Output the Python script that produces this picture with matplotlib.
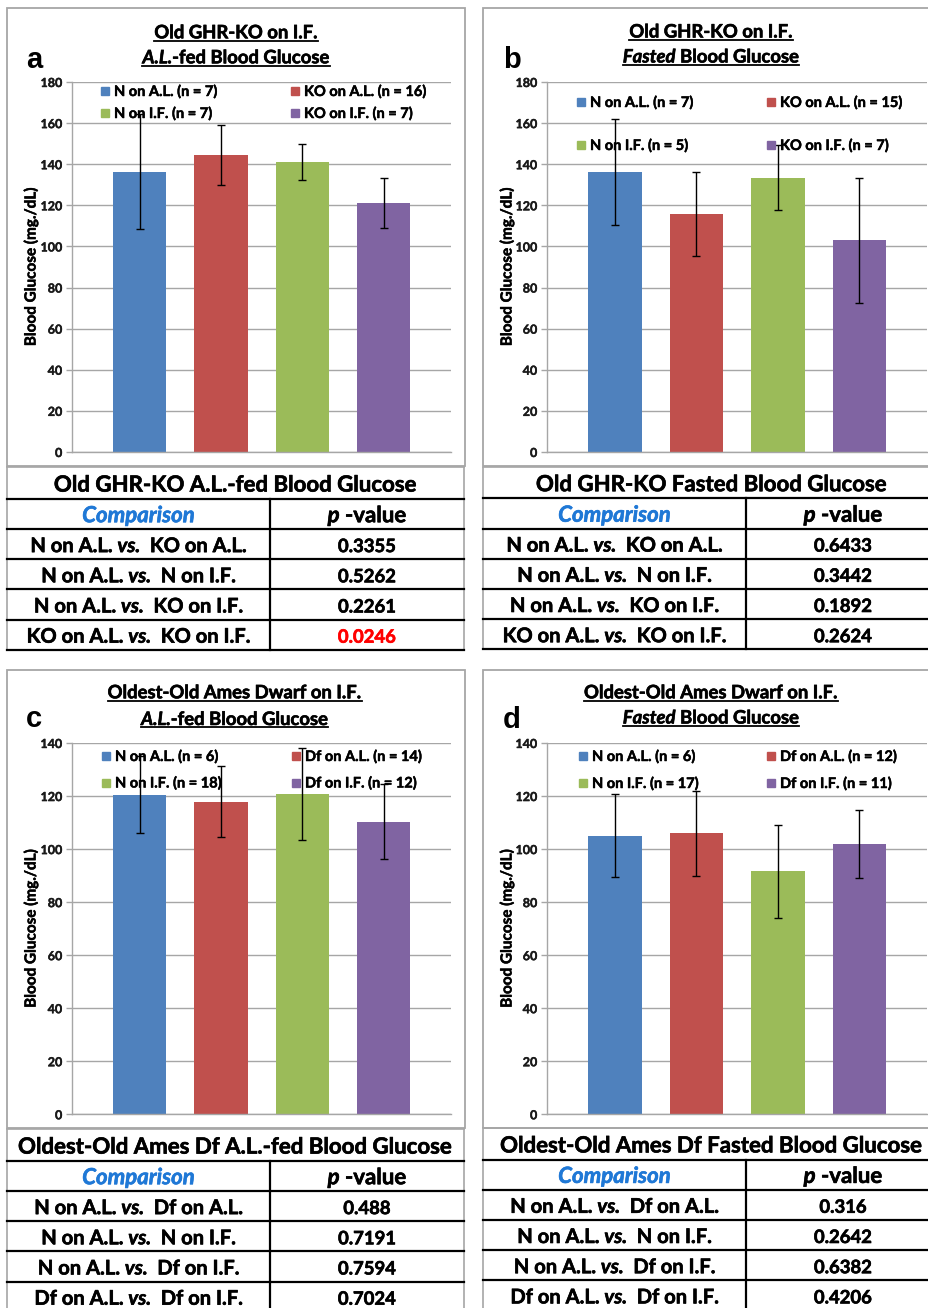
import matplotlib
matplotlib.use("Agg")
import matplotlib.pyplot as plt
from matplotlib.patches import Rectangle
from matplotlib.lines import Line2D
from matplotlib import font_manager as fm
import matplotlib.patheffects as pe

# ---------------- data ----------------
groups_ghr = ["N on A.L.", "KO on A.L.", "N on I.F.", "KO on I.F."]
groups_ames = ["N on A.L.", "Df on A.L.", "N on I.F.", "Df on I.F."]

n_a = [7, 16, 7, 7]
mean_a = [136.4, 144.4, 141.0, 121.1]
err_a = [27.8, 14.7, 8.9, 12.0]

n_b = [7, 15, 5, 7]
mean_b = [136.3, 115.8, 133.5, 103.0]
err_b = [25.8, 20.4, 15.7, 30.4]

n_c = [6, 14, 18, 12]
mean_c = [120.5, 117.9, 120.8, 110.4]
err_c = [14.5, 13.5, 17.5, 14.0]

n_d = [6, 12, 17, 11]
mean_d = [105.1, 106.0, 91.7, 101.9]
err_d = [15.5, 16.0, 17.5, 12.8]

title1_ghr = [("Old GHR-KO on I.F.", 'n')]
title1_ames = [("Oldest-Old Ames Dwarf on I.F.", 'n')]
title2_al = [("A.L.", 'i'), ("-fed Blood Glucose", 'n')]
title2_fast = [("Fasted", 'i'), (" Blood Glucose", 'n')]

table_title_a = "Old GHR-KO A.L.-fed Blood Glucose"
table_title_b = "Old GHR-KO Fasted Blood Glucose"
table_title_c = "Oldest-Old Ames Df A.L.-fed Blood Glucose"
table_title_d = "Oldest-Old Ames Df Fasted Blood Glucose"

comparisons_ghr = [("N on A.L.", "KO on A.L."), ("N on A.L.", "N on I.F."),
                   ("N on A.L.", "KO on I.F."), ("KO on A.L.", "KO on I.F.")]
comparisons_ames = [("N on A.L.", "Df on A.L."), ("N on A.L.", "N on I.F."),
                    ("N on A.L.", "Df on I.F."), ("Df on A.L.", "Df on I.F.")]
p_a = ["0.3355", "0.5262", "0.2261", "0.0246"]
p_b = ["0.6433", "0.3442", "0.1892", "0.2624"]
p_c = ["0.488", "0.7191", "0.7594", "0.7024"]
p_d = ["0.316", "0.2642", "0.6382", "0.4206"]
significant_a = [False, False, False, True]
significant_none = [False, False, False, False]

ylabel_text = "Blood Glucose (mg./dL)"
bar_colors = ['#4F81BD', '#C0504D', '#9BBB59', '#8064A2']


# ---------------- fonts ----------------
def _w(v):
    if isinstance(v, str):
        return fm.weight_dict.get(v, 400)
    return v


def find_faces(cands):
    for fam in cands:
        faces = [f for f in fm.fontManager.ttflist if f.name == fam]
        bold = [f for f in faces if _w(f.weight) >= 700 and f.style == 'normal']
        bi = [f for f in faces if _w(f.weight) >= 700 and f.style in ('italic', 'oblique')]
        if bold and bi:
            bold.sort(key=lambda f: abs(_w(f.weight) - 700))
            bi.sort(key=lambda f: abs(_w(f.weight) - 700))
            return bold[0].fname, bi[0].fname
    return None, None


BOLD_FILE, BI_FILE = find_faces(["Lato", "Open Sans", "Noto Sans", "Roboto", "Liberation Sans", "DejaVu Sans"])


def FP(style, size):
    if BOLD_FILE is None:
        return fm.FontProperties(family='DejaVu Sans', weight='bold',
                                 style='italic' if style == 'i' else 'normal', size=size)
    return fm.FontProperties(fname=BI_FILE if style == 'i' else BOLD_FILE, size=size)


def heavy(color, lw=0.45):
    return [pe.Stroke(linewidth=lw, foreground=color), pe.Normal()]


# ---------------- layout helpers ----------------
W, H = 929, 1308
fig = plt.figure(figsize=(W / 100, H / 100), dpi=100)
renderer = fig.canvas.get_renderer()
GRAY = '#A6A6A6'
BLUE_HDR = '#1F78D6'


def fx(x):
    return x / W


def fy(y):
    return 1 - y / H


def hline(x0, x1, y, **kw):
    fig.add_artist(Line2D([fx(x0), fx(x1)], [fy(y), fy(y)], transform=fig.transFigure, **kw))


def vline(x, y0, y1, **kw):
    fig.add_artist(Line2D([fx(x), fx(x)], [fy(y0), fy(y1)], transform=fig.transFigure, **kw))


def measure(s, fp):
    t = fig.text(0, 0, s, fontproperties=fp)
    w = t.get_window_extent(renderer).width
    t.remove()
    return w


def rich(x, y, pieces, size, ha='center', color='black', zorder=3):
    """pieces: list of (string, 'n'|'i'). y is baseline (pixel, top origin)."""
    items = []
    total = 0.0
    for s, st in pieces:
        fp = FP(st, size)
        sp = measure("x x", fp) - measure("xx", fp)
        lead = len(s) - len(s.lstrip(' '))
        trail = len(s) - len(s.rstrip(' '))
        core = s.strip(' ')
        wc = measure(core, fp) if core else 0.0
        items.append((core, fp, total + lead * sp))
        total += wc + (lead + trail) * sp
    x0 = x - total / 2 if ha == 'center' else x
    for core, fp, off in items:
        if core:
            fig.text(fx(x0 + off), fy(y), core, fontproperties=fp, ha='left',
                     va='baseline', color=color, zorder=zorder, path_effects=heavy(color))
    return x0, x0 + total


TITLE_FS = 13.3
TTITLE_FS = 16
HDR_FS = 16
ROW_FS = 14.5
VAL_FS = 13.3
LEG_FS = 10.5
TICK_FS = 9
YLAB_FS = 11


def draw_panel(letter, L, title1, title2, groups, ns, means, errs, ymax, yticks,
               ttitle, comps, pvals, sig):
    bx0, by0, bx1, by1 = L['box']
    fig.add_artist(Rectangle((fx(bx0), fy(by1)), (bx1 - bx0) / W, (by1 - by0) / H,
                             transform=fig.transFigure, fill=False, edgecolor=GRAY, lw=1.3))
    l, t, r, b = L['ax']
    ax = fig.add_axes([fx(l), fy(b), (r - l) / W, (b - t) / H])
    x = list(range(len(means)))
    ax.bar(x, means, width=0.656, color=bar_colors, zorder=2)
    ax.errorbar(x, means, yerr=errs, fmt='none', ecolor='black', elinewidth=1,
                capsize=3, capthick=1, zorder=3)
    ax.set_xlim(-0.835, 3.83)
    ax.set_ylim(0, ymax)
    ax.set_yticks(yticks, labels=[str(v) for v in yticks], fontproperties=FP('n', TICK_FS))
    ax.set_xticks([])
    ax.yaxis.grid(True, color=GRAY, lw=1)
    ax.set_axisbelow(True)
    for s in ['top', 'right']:
        ax.spines[s].set_visible(False)
    for s in ['left', 'bottom']:
        ax.spines[s].set_color(GRAY)
        ax.spines[s].set_linewidth(1)
    ax.tick_params(axis='y', length=4, color=GRAY, width=1, labelcolor='#1a1a1a', pad=3)
    for lab in ax.get_yticklabels():
        lab.set_path_effects(heavy('#1a1a1a', 0.3))
    ax.patch.set_alpha(0)

    # y label
    fig.text(fx(L['ylab_x']), fy((t + b) / 2), ylabel_text, rotation=90, ha='center',
             va='center', fontproperties=FP('n', YLAB_FS), path_effects=heavy('black', 0.35))

    # legend (manual, 2 x 2)
    for i, (g, n) in enumerate(zip(groups, ns)):
        row, col = divmod(i, 2)
        sx = L['leg_x'][col]
        sy = L['leg_y'][row]
        fig.add_artist(Rectangle((fx(sx), fy(sy + 4)), 8 / W, 8 / H,
                                 transform=fig.transFigure, color=bar_colors[i], zorder=5))
        fig.text(fx(sx + 13), fy(sy + 5), f"{g} (n = {n})", ha='left', va='baseline',
                 fontproperties=FP('n', LEG_FS), zorder=5, path_effects=heavy('black', 0.35))

    # titles with underline
    for pieces, base in ((title1, L['tb'][0]), (title2, L['tb'][1])):
        ux0, ux1 = rich(L['cx'], base, pieces, TITLE_FS)
        hline(ux0, ux1, base + 2.3, color='black', lw=1.3)

    # panel letter
    fig.text(fx(L['letter'][0]), fy(L['letter'][1]), letter, ha='left', va='baseline',
             fontsize=21, fontweight='bold', family='Liberation Sans')

    # table
    tx0, tx1, tdiv, ttop, th = L['tbl']
    rh = 30.2
    nrows = len(comps) + 1
    ys = [ttop, ttop + th] + [ttop + th + rh * (k + 1) for k in range(nrows)]
    bottom = ys[-1]
    hline(tx0, tx1, ttop, color=GRAY, lw=1.2)
    vline(tx0, ttop, bottom, color=GRAY, lw=1.2)
    vline(tx1, ttop, bottom, color=GRAY, lw=1.2)
    for yy in ys[1:]:
        hline(tx0, tx1, yy, color='black', lw=1.6)
    vline(tdiv, ys[1], bottom, color='black', lw=1.6)

    rich((tx0 + tx1) / 2, (ys[0] + ys[1]) / 2 + 8.7, [(ttitle, 'n')], TTITLE_FS)
    c1 = (tx0 + tdiv) / 2
    c2 = (tdiv + tx1) / 2
    rich(c1, (ys[1] + ys[2]) / 2 + 8.3, [("Comparison", 'i')], HDR_FS, color=BLUE_HDR)
    rich(c2, (ys[1] + ys[2]) / 2 + 8.3, [("p", 'i'), (" -value", 'n')], HDR_FS)
    for k, ((g1, g2), pv) in enumerate(zip(comps, pvals)):
        yc = (ys[2 + k] + ys[3 + k]) / 2 + 8.0
        rich(c1, yc, [(g1 + " ", 'n'), ("vs.", 'i'), ("  " + g2, 'n')], ROW_FS)
        rich(c2, yc, [(pv, 'n')], VAL_FS, color='#FF0000' if sig[k] else 'black')


layouts = {
    'a': dict(box=(7, 8, 465, 466), ax=(72, 82, 451, 452), cx=236, tb=(38.3, 63.3),
              letter=(26, 68.3), leg_x=(101, 291), leg_y=(91, 113), ylab_x=31,
              tbl=(7, 464, 270, 467, 31.8)),
    'b': dict(box=(483, 8, 935, 466), ax=(547, 82, 927, 452), cx=711, tb=(37.5, 62.5),
              letter=(503, 68.3), leg_x=(577, 767), leg_y=(102, 145), ylab_x=507,
              tbl=(483, 940, 746, 466.7, 31.6)),
    'c': dict(box=(7, 670, 465, 1127.5), ax=(72, 743, 451, 1114.3), cx=234.6, tb=(698.3, 725),
              letter=(26, 726.7), leg_x=(102, 292), leg_y=(756, 782.5), ylab_x=31,
              tbl=(7, 464, 270, 1129, 31.8)),
    'd': dict(box=(483, 670, 935, 1127.5), ax=(547, 743, 927, 1114.3), cx=711, tb=(698.3, 723.5),
              letter=(503, 727.5), leg_x=(579, 767), leg_y=(756, 783), ylab_x=507,
              tbl=(483, 940, 746, 1128, 31.5)),
}

draw_panel('a', layouts['a'], title1_ghr, title2_al, groups_ghr, n_a, mean_a, err_a,
           180, list(range(0, 181, 20)), table_title_a, comparisons_ghr, p_a, significant_a)
draw_panel('b', layouts['b'], title1_ghr, title2_fast, groups_ghr, n_b, mean_b, err_b,
           180, list(range(0, 181, 20)), table_title_b, comparisons_ghr, p_b, significant_none)
draw_panel('c', layouts['c'], title1_ames, title2_al, groups_ames, n_c, mean_c, err_c,
           140, list(range(0, 141, 20)), table_title_c, comparisons_ames, p_c, significant_none)
draw_panel('d', layouts['d'], title1_ames, title2_fast, groups_ames, n_d, mean_d, err_d,
           140, list(range(0, 141, 20)), table_title_d, comparisons_ames, p_d, significant_none)

fig.savefig("out.png", dpi=100, facecolor='white')
